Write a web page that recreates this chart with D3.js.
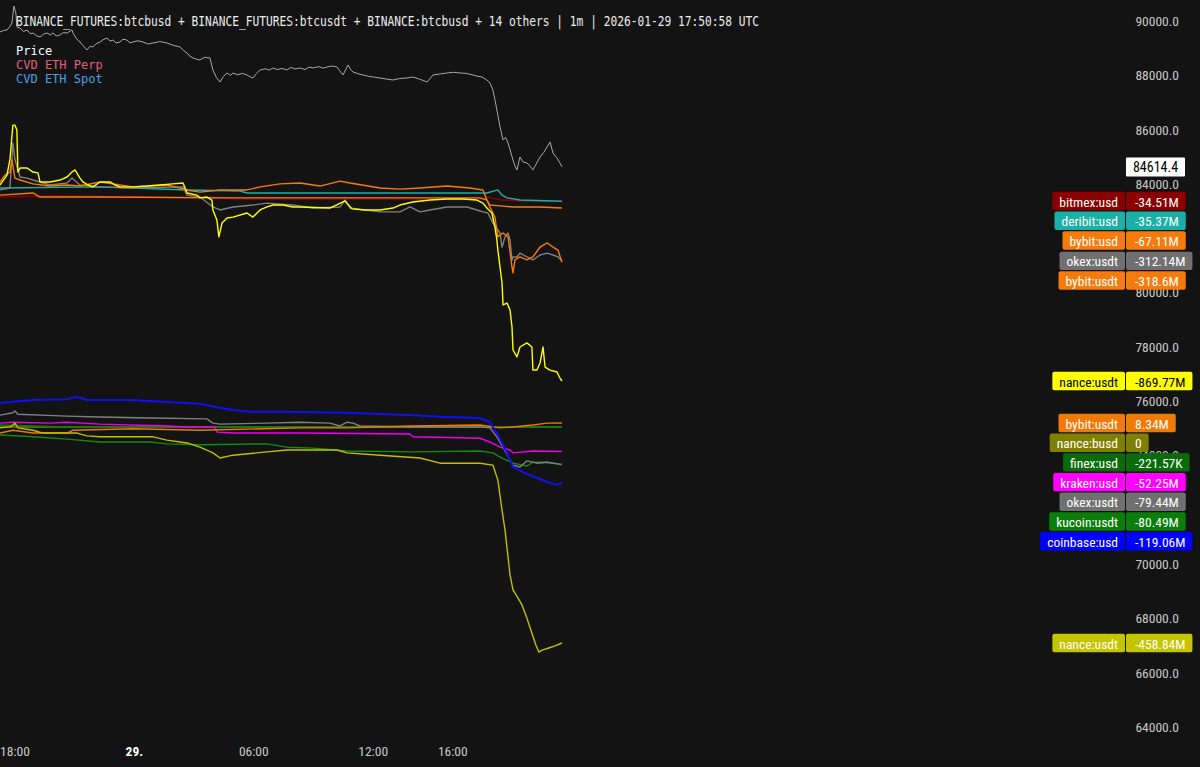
<!DOCTYPE html>
<html><head><meta charset="utf-8">
<script src="https://cdn.jsdelivr.net/npm/d3@7"></script>
<style>body{margin:0;background:#131313;} svg{display:block;}</style>
</head><body>
<svg id="chart" width="1200" height="767"></svg>
<script>
// ---------- DATA ----------
const titleText = "BINANCE_FUTURES:btcbusd + BINANCE_FUTURES:btcusdt + BINANCE:btcbusd + 14 others | 1m | 2026-01-29 17:50:58 UTC";
const legendItems = ["Price", "CVD ETH Perp", "CVD ETH Spot"];
// 82000 and 72000 sit fully behind the value labels in the reference, so they are not drawn
const priceTicks = [90000, 88000, 86000, 84000, 80000, 78000, 76000, 74000, 70000, 68000, 66000, 64000];
const timeTickHours = [18, 24, 30, 36, 40];          // hours since 2026-01-28 00:00
const timeTickLabels = ["18:00", "29.", "06:00", "12:00", "16:00"];

// price [hour, price]
const pricePts = [[17.27,89584],[17.45,89640],[17.62,89657],[17.75,89760],[17.87,89915],[17.97,90541],[18.07,90284],[18.12,89768],[18.28,89731],[18.45,89600],[18.63,89657],[18.8,89520],[18.93,89547],[19.1,89450],[19.28,89400],[19.45,89500],[19.63,89547],[19.8,89480],[19.93,89547],[20.1,89440],[20.29,89473],[20.45,89560],[20.64,89547],[20.89,89657],[20.94,89547],[21.1,89350],[21.29,89216],[21.45,89080],[21.64,88921],[21.8,89060],[21.94,89031],[22.1,89150],[22.3,89216],[22.45,89300],[22.65,89363],[22.8,89250],[22.95,89289],[23.1,89180],[23.3,89216],[23.45,89320],[23.65,89289],[23.8,89180],[23.95,89216],[24.2,89260],[24.46,89216],[24.7,89140],[24.96,89179],[25.3,89230],[25.66,89179],[26.0,89090],[26.32,89031],[26.5,88900],[26.67,88810],[26.8,88700],[26.97,88626],[27.15,88580],[27.32,88553],[27.55,88650],[27.82,88626],[27.97,88184],[28.15,87900],[28.33,87742],[28.5,87950],[28.68,88074],[28.85,87990],[28.98,88074],[29.2,88010],[29.45,88060],[29.68,88000],[29.85,87930],[29.98,87890],[30.15,88050],[30.34,88184],[30.6,88230],[30.8,88180],[30.99,88258],[31.2,88200],[31.45,88240],[31.69,88184],[31.9,88280],[32.1,88220],[32.35,88258],[32.6,88200],[32.8,88290],[33.0,88258],[33.3,88310],[33.5,88250],[33.7,88295],[33.95,88330],[34.2,88295],[34.35,88150],[34.51,88000],[34.76,88368],[34.9,88200],[35.01,88111],[35.25,88050],[35.51,88000],[35.8,87950],[36.1,87920],[36.37,87890],[36.7,87850],[37.02,87816],[37.35,87870],[37.72,87890],[38.02,87927],[38.35,87850],[38.73,87742],[39.03,88000],[39.4,88040],[39.73,88074],[40.05,88100],[40.39,88074],[40.7,88060],[41.04,88000],[41.25,87960],[41.49,87927],[41.74,87816],[41.89,87705],[42.04,87448],[42.14,87100],[42.24,86711],[42.4,86085],[42.55,85606],[42.68,85700],[42.8,85496],[42.92,85200],[43.05,84870],[43.15,84650],[43.25,84501],[43.4,84980],[43.55,84800],[43.75,84759],[43.9,84650],[44.05,84501],[44.2,84700],[44.41,84980],[44.6,85150],[44.76,85349],[44.91,85533],[45.06,85128],[45.25,84950],[45.41,84759],[45.51,84614.4]];

// Perp CVD series [hour, value in millions]
const cvdPerpBitmex = [[17.27,-16],[19.78,-11],[24.81,-16],[29.83,-25],[37.37,-25],[41.39,-25],[41.89,-16],[42.4,-30],[43.4,-34],[45.51,-34.51]];
const cvdPerpDeribit = [[17.27,26],[22.3,31],[26.67,17],[29.33,12],[29.68,3],[32.35,3],[36.37,3],[41.74,3],[42.29,17],[42.5,-7],[42.75,-20],[43.4,-30],[45.51,-35.37]];
const cvdPerpBybitUsd = [[17.27,-7],[18.93,3],[19.28,-16],[22.3,-16],[28.98,-20],[32.35,-20],[36.37,-20],[41.39,-20],[41.74,-30],[41.89,-53],[42.4,-57],[43.05,-62],[44.41,-62],[45.51,-67.11]];
const cvdPerpOkexUsdt = [[17.27,17],[17.77,26],[17.92,235],[18.02,158],[18.28,77],[18.63,72],[18.93,63],[19.28,54],[19.78,40],[20.64,49],[20.89,72],[21.29,40],[22.3,31],[23.95,26],[26.47,31],[26.67,-7],[27.32,-16],[27.97,-62],[28.33,-76],[28.98,-62],[29.98,-53],[30.69,-44],[31.99,-53],[33.0,-67],[34.36,-62],[34.61,-30],[34.86,-67],[36.37,-85],[37.37,-85],[37.87,-62],[38.38,-85],[38.88,-76],[39.73,-62],[40.74,-62],[41.24,-76],[41.54,-85],[41.79,-90],[42.04,-136],[42.4,-183],[42.5,-248],[42.65,-201],[42.8,-183],[42.9,-215],[43.0,-308],[43.05,-294],[43.25,-294],[43.4,-276],[43.75,-294],[44.05,-308],[44.41,-285],[44.76,-276],[45.06,-285],[45.31,-294],[45.51,-312.14]];
const cvdPerpBybitUsdt = [[17.27,54],[17.52,86],[17.77,100],[17.87,158],[18.02,72],[18.28,63],[18.93,45],[19.78,35],[20.64,40],[21.29,35],[22.3,54],[23.95,31],[25.66,40],[26.67,17],[27.32,7],[28.33,17],[29.68,17],[30.34,31],[31.34,45],[32.35,49],[33.35,35],[34.36,58],[34.86,49],[36.37,26],[37.37,21],[38.38,26],[39.73,35],[40.89,26],[41.54,17],[41.74,-30],[41.89,-62],[42.14,-109],[42.29,-201],[42.55,-183],[42.8,-201],[43.0,-341],[43.05,-368],[43.15,-308],[43.4,-294],[43.75,-308],[44.05,-294],[44.41,-248],[44.76,-229],[45.06,-248],[45.31,-262],[45.51,-318.6]];
const cvdPerpBinanceUsdt = [[17.27,40],[17.62,86],[17.77,158],[17.92,318],[18.02,318],[18.12,295],[18.17,100],[18.28,119],[18.63,119],[18.93,100],[19.18,96],[19.28,54],[19.78,54],[20.29,63],[20.64,77],[20.89,100],[21.04,110],[21.29,72],[21.44,54],[21.69,40],[21.94,31],[22.3,54],[22.8,54],[23.05,40],[23.3,31],[23.95,31],[24.66,35],[25.31,40],[25.96,45],[26.47,49],[26.67,3],[27.17,-7],[27.32,-20],[27.67,-16],[27.92,-30],[27.97,-76],[28.17,-122],[28.27,-201],[28.43,-136],[28.68,-113],[28.98,-109],[29.68,-90],[29.98,-109],[30.34,-76],[30.69,-62],[30.99,-53],[31.49,-53],[31.99,-62],[32.35,-62],[33.85,-67],[34.61,-34],[34.96,-71],[35.61,-76],[36.37,-76],[37.02,-67],[37.37,-53],[38.02,-39],[38.88,-30],[39.73,-25],[40.54,-25],[41.24,-30],[41.54,-44],[41.74,-67],[41.99,-90],[42.14,-155],[42.24,-215],[42.29,-262],[42.5,-415],[42.55,-517],[42.75,-508],[42.9,-540],[43.0,-619],[43.05,-726],[43.25,-758],[43.4,-712],[43.75,-693],[44.0,-712],[44.05,-819],[44.25,-819],[44.41,-786],[44.56,-712],[44.66,-805],[44.91,-819],[45.26,-828],[45.41,-856],[45.51,-869.77]];

// Spot CVD series [hour, value in millions]
const cvdSpotBybitUsdt = [[17.27,-13],[17.92,-7],[18.93,-13],[20.64,-13],[20.94,-7],[23.95,-4],[27.32,-7],[32.35,-2],[34.71,-2],[38.02,2],[41.39,4],[42.04,0],[42.4,-2],[43.05,0],[44.05,4],[44.76,8],[45.51,8.34]];
const cvdSpotBinanceBusd = [[17.27,0],[45.51,0]];
const cvdSpotBitfinex = [[17.27,4],[20.64,0],[32.35,0],[41.39,2],[42.4,0],[45.51,-0.22]];
const cvdSpotKraken = [[17.27,8],[17.92,10],[19.78,8],[20.64,10],[22.3,6],[25.66,2],[26.67,0],[28.07,0],[28.17,-11],[28.98,-13],[32.35,-13],[37.87,-15],[38.02,-21],[41.39,-24],[41.89,-32],[42.4,-43],[42.9,-49],[43.05,-55],[44.05,-51],[45.51,-52.25]];
const cvdSpotOkexUsdt = [[17.27,25],[17.92,30],[18.02,34],[18.17,27],[20.64,23],[22.3,21],[24.81,19],[27.67,17],[27.97,8],[28.33,6],[30.69,8],[32.35,10],[33.85,8],[34.36,2],[34.71,10],[35.01,8],[35.36,2],[38.02,0],[41.39,0],[41.89,-2],[42.24,-21],[42.55,-43],[43.05,-81],[43.4,-85],[43.75,-72],[44.25,-77],[44.76,-75],[45.51,-79.44]];
const cvdSpotKucoin = [[17.27,-17],[18.93,-21],[20.64,-26],[22.3,-32],[24.81,-32],[25.66,-36],[27.32,-38],[30.69,-36],[31.69,-43],[33.0,-45],[34.71,-51],[38.02,-53],[41.39,-51],[42.04,-55],[42.4,-64],[43.05,-77],[43.75,-83],[44.05,-75],[44.76,-75],[45.51,-80.49]];
const cvdSpotCoinbase = [[17.27,51],[17.77,53],[18.93,57],[20.64,59],[21.14,64],[21.64,57],[23.95,57],[25.66,53],[27.32,49],[28.17,42],[28.98,36],[29.83,32],[31.49,32],[34.71,30],[38.02,25],[39.73,21],[41.39,19],[41.89,10],[42.24,-13],[42.75,-55],[43.05,-85],[43.55,-96],[44.25,-108],[44.76,-117],[45.26,-123],[45.51,-119.06]];
const cvdSpotBinanceUsdt = [[17.27,-2],[17.77,0],[17.92,4],[18.02,8],[18.17,-2],[18.93,-7],[19.43,-13],[21.14,-13],[21.64,-19],[22.3,-21],[24.96,-21],[25.66,-28],[26.67,-34],[27.32,-43],[27.97,-55],[28.33,-66],[28.98,-60],[30.69,-53],[31.69,-49],[34.2,-49],[34.71,-55],[36.37,-60],[38.38,-66],[39.38,-77],[41.39,-77],[42.04,-81],[42.29,-113],[42.5,-177],[42.65,-219],[42.9,-314],[43.05,-346],[43.3,-363],[43.5,-378],[43.75,-406],[44.0,-438],[44.2,-463],[44.35,-478],[44.51,-474],[44.81,-470],[45.16,-465],[45.51,-458.84]];

const perpNames = ["bitmex:usd", "deribit:usd", "bybit:usd", "okex:usdt", "bybit:usdt", "nance:usdt"];
const perpValueText = ["-34.51M", "-35.37M", "-67.11M", "-312.14M", "-318.6M", "-869.77M"];
const perpData = [cvdPerpBitmex, cvdPerpDeribit, cvdPerpBybitUsd, cvdPerpOkexUsdt, cvdPerpBybitUsdt, cvdPerpBinanceUsdt];

const spotNames = ["bybit:usdt", "nance:busd", "finex:usd", "kraken:usd", "okex:usdt", "kucoin:usdt", "coinbase:usd", "nance:usdt"];
const spotValueText = ["8.34M", "0", "-221.57K", "-52.25M", "-79.44M", "-80.49M", "-119.06M", "-458.84M"];
const spotData = [cvdSpotBybitUsdt, cvdSpotBinanceBusd, cvdSpotBitfinex, cvdSpotKraken, cvdSpotOkexUsdt, cvdSpotKucoin, cvdSpotCoinbase, cvdSpotBinanceUsdt];

// ---------- STYLE ----------
const perpColors = ["#8a0000", "#1ab0a6", "#f57c0c", "#707070", "#f57c0c", "#ffff00"];
const perpText = ["#fff", "#fff", "#fff", "#fff", "#fff", "#000"];
const spotColors = ["#f07a08", "#808000", "#0b6b0b", "#ff00ff", "#707070", "#0a7d0a", "#0000ff", "#c4c400"];
const spotLine = ["#e87a10", "#808000", "#0e7a0e", "#ee00ee", "#808080", "#138a13", "#1010f0", "#c0c000"];
const spotText = ["#fff", "#fff", "#fff", "#fff", "#fff", "#fff", "#fff", "#fff"];
const condensed = "'Liberation Sans Narrow','Roboto Condensed','DejaVu Sans Condensed','DejaVu Sans',sans-serif";
const mono = "'DejaVu Sans Mono','Liberation Mono',monospace";

// ---------- SCALES ----------
const base = Date.UTC(2026, 0, 28, 0, 0);
const toDate = h => new Date(base + h * 3600000);
const x = d3.scaleUtc().domain([toDate(18), toDate(40)]).range([14.5, 452.3]);
const yPrice = d3.scaleLinear().domain([64000, 90000]).range([726.6, 20.7]);
const perpMin = d3.min(perpData, s => s[s.length - 1][1]);
const yPerp = d3.scaleLinear().domain([perpMin, 0]).range([381, 193.6]);
const spotMin = d3.min(spotData, s => s[s.length - 1][1]);
const spotMax = d3.max(spotData, s => s[s.length - 1][1]);
const ySpot = d3.scaleLinear().domain([spotMin, spotMax]).range([643, 423]);

const svg = d3.select("#chart");
svg.append("rect").attr("width", 1200).attr("height", 767).attr("fill", "#131313");

// ---------- AXES ----------
const yAxis = d3.axisRight(yPrice).tickValues(priceTicks).tickFormat(d3.format(".1f")).tickSize(0);
const ya = svg.append("g").attr("transform", "translate(1179,0)").call(yAxis);
ya.select(".domain").remove();
ya.selectAll("text").attr("x", 0).attr("dy", "0.35em").attr("text-anchor", "end")
  .attr("fill", "#c8c8c8").style("font-family", condensed).style("font-size", "13.5px");

const xAxis = d3.axisBottom(x).tickValues(timeTickHours.map(toDate))
  .tickFormat((d, i) => timeTickLabels[i]).tickSize(0);
const xa = svg.append("g").attr("transform", "translate(0,745)").call(xAxis);
xa.select(".domain").remove();
xa.selectAll("text").attr("y", 0).attr("dy", "0.35em")
  .attr("fill", (d, i) => timeTickLabels[i] === "29." ? "#ffffff" : "#c8c8c8")
  .style("font-weight", (d, i) => timeTickLabels[i] === "29." ? "bold" : "normal")
  .style("font-family", condensed).style("font-size", "13.5px");
xa.selectAll("text").attr("transform", "translate(0,6)");

// ---------- LINES ----------
const linePrice = d3.line().x(d => x(toDate(d[0]))).y(d => yPrice(d[1]));
const linePerp = d3.line().x(d => x(toDate(d[0]))).y(d => yPerp(d[1]));
const lineSpot = d3.line().x(d => x(toDate(d[0]))).y(d => ySpot(d[1]));

svg.append("path").datum(pricePts).attr("d", linePrice).attr("fill", "none")
  .attr("stroke", "#a8a8a8").attr("stroke-width", 1);

const spotOrder = [1, 2, 5, 4, 3, 0, 7, 6];
spotOrder.forEach(i => {
  svg.append("path").datum(spotData[i]).attr("d", lineSpot).attr("fill", "none")
    .attr("stroke", spotLine[i]).attr("stroke-width", i === 6 ? 2 : 1.4).attr("stroke-linejoin", "round");
});
const perpOrder = [0, 2, 1, 3, 4, 5];
perpOrder.forEach(i => {
  svg.append("path").datum(perpData[i]).attr("d", linePerp).attr("fill", "none")
    .attr("stroke", perpColors[i] === "#707070" ? "#808080" : perpColors[i])
    .attr("stroke-width", 1.4).attr("stroke-linejoin", "round");
});

// ---------- TITLE / LEGEND ----------
svg.append("text").attr("x", 16).attr("y", 25.5).text(titleText)
  .attr("fill", "#ececec").style("font-family", mono).style("font-size", "14px")
  .attr("textLength", 743).attr("lengthAdjust", "spacingAndGlyphs");
const legendColors = ["#ffffff", "#e0607e", "#4f9ee8"];
legendItems.forEach((t, i) => {
  svg.append("text").attr("x", 16).attr("y", 55 + i * 14.2).text(t)
    .attr("fill", legendColors[i]).style("font-family", mono).style("font-size", "12px");
});

// ---------- LABELS ----------
const SPACING = 19.7, H = 18.4, PAD = 7, DIV = 1126;
function placeLabels(items) {
  const sorted = items.slice().sort((a, b) => a.y - b.y);
  let prev = -Infinity;
  sorted.forEach(it => { it.ly = Math.max(it.y, prev + SPACING); prev = it.ly; });
  return sorted;
}
function drawLabel(it) {
  const g = svg.append("g");
  const t1 = g.append("text").text(it.name).attr("fill", it.tc)
    .style("font-family", condensed).style("font-size", "13.5px").attr("dominant-baseline", "central");
  const t2 = g.append("text").text(it.val).attr("fill", it.tc)
    .style("font-family", condensed).style("font-size", "13.5px").attr("dominant-baseline", "central");
  const w1 = t1.node().getComputedTextLength(), w2 = t2.node().getComputedTextLength();
  const top = it.ly - H / 2;
  g.insert("rect", "text").attr("x", DIV - 1 - w1 - 2 * PAD).attr("y", top).attr("width", w1 + 2 * PAD)
    .attr("height", H).attr("rx", 2).attr("fill", it.color);
  g.insert("rect", "text").attr("x", DIV).attr("y", top).attr("width", w2 + 2 * PAD + 2)
    .attr("height", H).attr("rx", 2).attr("fill", it.color);
  t1.attr("x", DIV - 1 - PAD - w1).attr("y", it.ly + 0.5);
  t2.attr("x", DIV + PAD + 2).attr("y", it.ly + 0.5);
}
// price label
(function () {
  const last = pricePts[pricePts.length - 1][1];
  const yy = yPrice(last);
  const g = svg.append("g");
  g.append("rect").attr("x", DIV).attr("y", yy - 9.5).attr("width", 59).attr("height", 19).attr("fill", "#ffffff").attr("rx", 1);
  g.append("text").attr("x", DIV + 29.5).attr("y", yy + 0.5).attr("text-anchor", "middle").attr("dominant-baseline", "central")
    .text(d3.format(".1f")(last)).attr("fill", "#000").style("font-family", condensed).style("font-size", "14px");
})();

const perpItems = perpData.map((s, i) => ({ name: perpNames[i], val: perpValueText[i], y: yPerp(s[s.length - 1][1]), color: perpColors[i], tc: perpText[i] }));
const spotItems = spotData.map((s, i) => ({ name: spotNames[i], val: spotValueText[i], y: ySpot(s[s.length - 1][1]), color: spotColors[i], tc: spotText[i] }));
placeLabels(perpItems).forEach(drawLabel);
placeLabels(spotItems).forEach(drawLabel);
</script>
</body></html>
